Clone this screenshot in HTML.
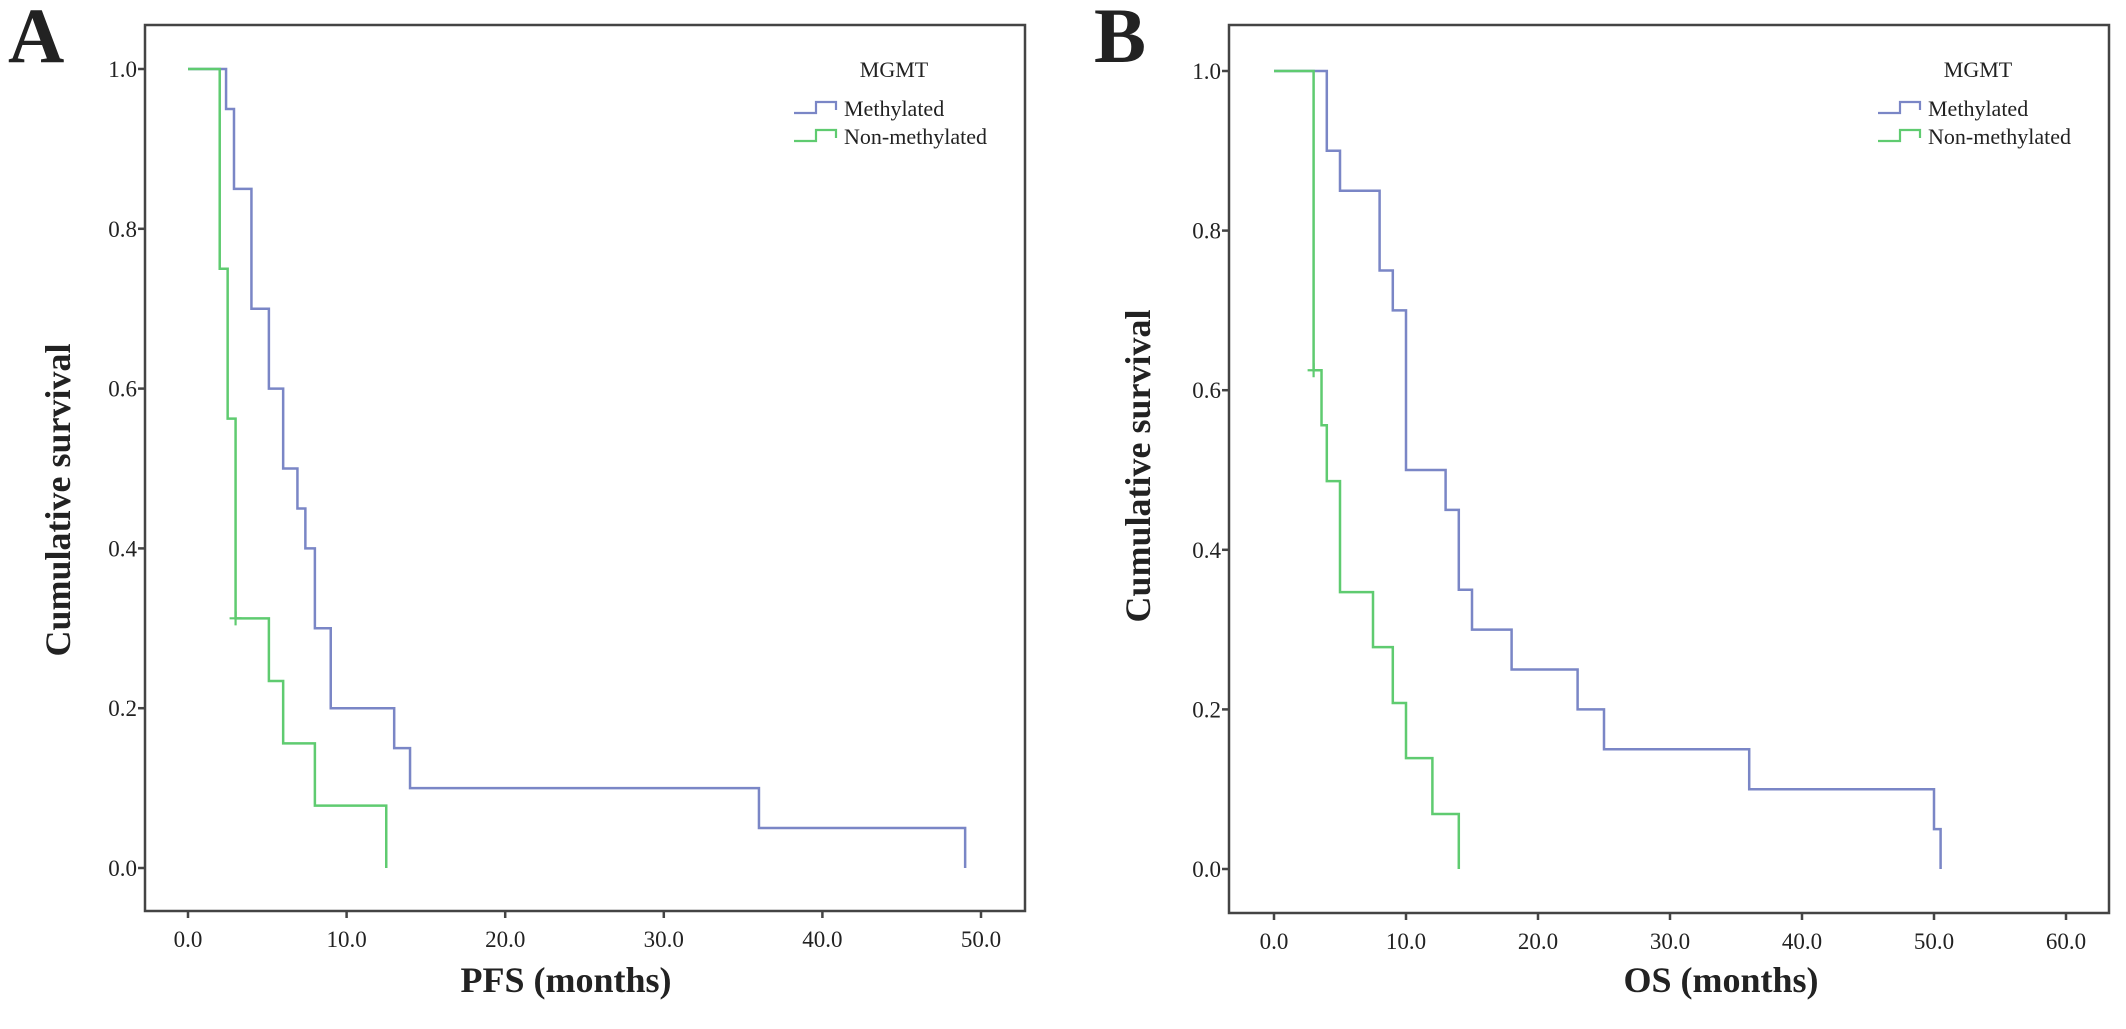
<!DOCTYPE html>
<html><head><meta charset="utf-8"><style>
html,body{margin:0;padding:0;background:#fff;}
svg{display:block;}
text{font-family:"Liberation Serif",serif;fill:#222;}
</style></head><body>
<svg id="chart" width="2126" height="1029" viewBox="0 0 2126 1029" xmlns="http://www.w3.org/2000/svg"></svg>
<script>
// Panel A (PFS) data
const pfsMethTimes = [0, 2.4, 2.9, 4.0, 5.1, 6.0, 6.9, 7.4, 8.0, 9.0, 13.0, 14.0, 36.0, 49.0];
const pfsMethSurv  = [1.0, 0.95, 0.85, 0.70, 0.60, 0.50, 0.45, 0.40, 0.30, 0.20, 0.15, 0.10, 0.05, 0.0];
const pfsNonTimes  = [0, 2.0, 2.5, 3.0, 5.1, 6.0, 8.0, 12.5];
const pfsNonSurv   = [1.0, 0.75, 0.5625, 0.3125, 0.234, 0.156, 0.078, 0.0];
const pfsNonCensorT = [3.0];
const pfsNonCensorS = [0.3125];
const pfsXTicks = [0, 10, 20, 30, 40, 50];
// Panel B (OS) data
const osMethTimes = [0, 4.0, 5.0, 8.0, 9.0, 10.0, 13.0, 14.0, 15.0, 18.0, 23.0, 25.0, 36.0, 50.0, 50.5];
const osMethSurv  = [1.0, 0.90, 0.85, 0.75, 0.70, 0.50, 0.45, 0.35, 0.30, 0.25, 0.20, 0.15, 0.10, 0.05, 0.0];
const osNonTimes  = [0, 3.0, 3.6, 4.0, 5.0, 7.5, 9.0, 10.0, 12.0, 14.0];
const osNonSurv   = [1.0, 0.625, 0.556, 0.486, 0.347, 0.278, 0.208, 0.139, 0.069, 0.0];
const osNonCensorT = [3.0];
const osNonCensorS = [0.625];
const osXTicks = [0, 10, 20, 30, 40, 50, 60];
const yTicks = [0, 0.2, 0.4, 0.6, 0.8, 1.0];

const NS = 'http://www.w3.org/2000/svg';
const svg = document.getElementById('chart');
const BLUE = '#7a86c6', GREEN = '#5fcb70';
function mk(tag, attrs, parent){
  const e = document.createElementNS(NS, tag);
  for (const k in attrs) e.setAttribute(k, attrs[k]);
  (parent || svg).appendChild(e);
  return e;
}
function stepPath(times, surv, xs, ys){
  let d = 'M' + xs(times[0]) + ',' + ys(surv[0]);
  for (let i = 1; i < times.length; i++){
    d += ' H' + xs(times[i]) + ' V' + ys(surv[i]);
  }
  return d;
}
function panel(cfg){
  const g = mk('g', {});
  
  
  const xs = t => cfg.x0 + t * cfg.pxPerUnit;
  const ys = s => cfg.y0 - s * (cfg.y0 - cfg.y1);
  const frame = mk('rect', {x: cfg.fl, y: cfg.ft, width: cfg.fr - cfg.fl, height: cfg.fb - cfg.ft, fill: 'none', stroke: '#444', 'stroke-width': 2.5}, g);
  
  
  yTicks.forEach(v => {
    const y = ys(v);
    const tk = mk('line', {x1: cfg.fl - 7, x2: cfg.fl, y1: y, y2: y, stroke: '#444', 'stroke-width': 2.5}, g);
    
    
    const t = mk('text', {x: cfg.fl - 8, y: y + 8, 'text-anchor': 'end', 'font-size': 23}, g);
    t.textContent = v.toFixed(1);
    
    
  });
  cfg.xTicks.forEach(v => {
    const x = xs(v);
    const tk = mk('line', {x1: x, x2: x, y1: cfg.fb, y2: cfg.fb + 7, stroke: '#444', 'stroke-width': 2.5}, g);
    
    
    const t = mk('text', {x: x, y: cfg.fb + 36, 'text-anchor': 'middle', 'font-size': 23}, g);
    t.textContent = v.toFixed(1);
    
    
  });
  const pm = mk('path', {d: stepPath(cfg.mT, cfg.mS, xs, ys), fill: 'none', stroke: BLUE, 'stroke-width': 2.5}, g);
  
  
  const pn = mk('path', {d: stepPath(cfg.nT, cfg.nS, xs, ys), fill: 'none', stroke: GREEN, 'stroke-width': 2.5}, g);
  
  
  cfg.cT.forEach((t, i) => {
    const cx = xs(t), cy = ys(cfg.cS[i]);
    const c = mk('path', {d: 'M' + (cx - 6) + ',' + cy + ' H' + (cx + 6) + ' M' + cx + ',' + (cy - 7) + ' V' + (cy + 7), stroke: GREEN, 'stroke-width': 2.2}, g);
    
    
  });
  const xt = mk('text', {x: cfg.xTitleX, y: 992, 'text-anchor': 'middle', 'font-size': 36, 'font-weight': 'bold'}, g);
  xt.textContent = cfg.xTitle;
  
  
  const yt = mk('text', {x: 0, y: 0, 'text-anchor': 'middle', 'font-size': 36, 'font-weight': 'bold', transform: 'translate(' + cfg.yTitleX + ',' + cfg.yTitleY + ') rotate(-90)'}, g);
  yt.textContent = 'Cumulative survival';
  
  
  const pl = mk('text', {x: cfg.letterX, y: 62, 'font-size': 78, 'font-weight': 'bold'}, g);
  pl.textContent = cfg.letter;
  
  
  const lg = mk('g', {}, g);
  
  
  const lx = cfg.fr - 231;
  const lt = mk('text', {x: lx + 100, y: 77, 'text-anchor': 'middle', 'font-size': 22}, lg);
  lt.textContent = 'MGMT';
  
  
  [['Methylated', BLUE, 108], ['Non-methylated', GREEN, 136]].forEach(([lab, col, cy]) => {
    const ic = mk('path', {d: 'M' + lx + ',' + (cy + 5) + ' H' + (lx + 22) + ' V' + (cy - 6) + ' H' + (lx + 42) + ' V' + (cy + 2), fill: 'none', stroke: col, 'stroke-width': 2.2}, lg);
    
    
    const tx = mk('text', {x: lx + 50, y: cy + 8, 'font-size': 22}, lg);
    tx.textContent = lab;
    
    
  });
}
panel({name: 'panel-a-pfs', letter: 'A', letterX: 8, fl: 145, fr: 1025, ft: 25, fb: 911,
  x0: 188, pxPerUnit: 15.86, y0: 868, y1: 69, xTicks: pfsXTicks,
  mT: pfsMethTimes, mS: pfsMethSurv, nT: pfsNonTimes, nS: pfsNonSurv, cT: pfsNonCensorT, cS: pfsNonCensorS,
  xTitle: 'PFS (months)', xTitleX: 566, yTitleX: 70, yTitleY: 500});
panel({name: 'panel-b-os', letter: 'B', letterX: 1094, fl: 1229, fr: 2109, ft: 25, fb: 913,
  x0: 1274, pxPerUnit: 13.2, y0: 869, y1: 71, xTicks: osXTicks,
  mT: osMethTimes, mS: osMethSurv, nT: osNonTimes, nS: osNonSurv, cT: osNonCensorT, cS: osNonCensorS,
  xTitle: 'OS (months)', xTitleX: 1721, yTitleX: 1150, yTitleY: 466});
</script>
</body></html>
